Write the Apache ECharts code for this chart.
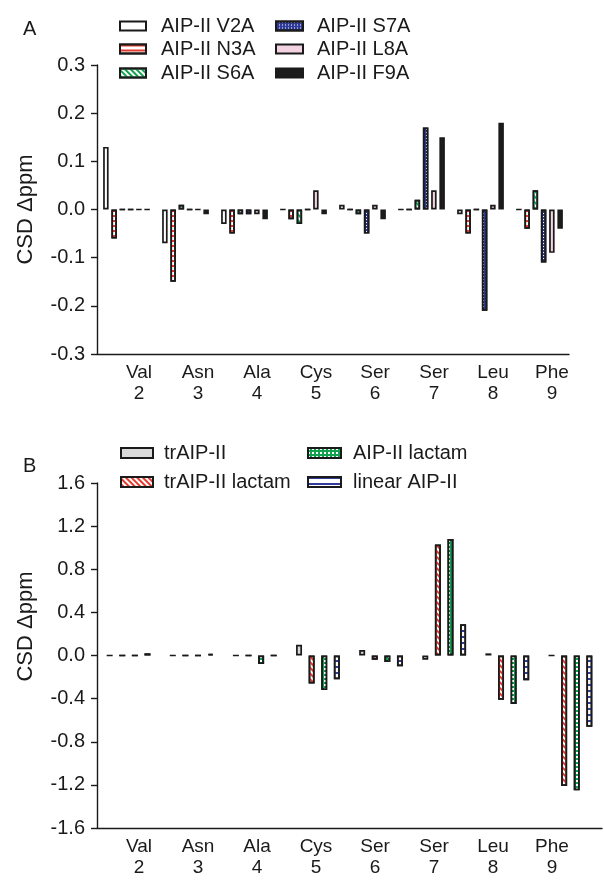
<!DOCTYPE html>
<html>
<head>
<meta charset="utf-8">
<script src="https://cdn.jsdelivr.net/npm/echarts@6/dist/echarts.min.js"></script>
<style>
html,body{margin:0;padding:0;background:#fff;}
#c{width:604px;height:884px;}
</style>
</head>
<body>
<div id="c"></div>
<script>
// ---- data ----
const residues = ['Val','Asn','Ala','Cys','Ser','Ser','Leu','Phe'];
const positions = ['2','3','4','5','6','7','8','9'];

// Panel A (CSD Δppm)
const seriesNamesA = ['AIP-II V2A','AIP-II N3A','AIP-II S6A','AIP-II S7A','AIP-II L8A','AIP-II F9A'];
const v2a = [0.13, -0.07, -0.03, 0, 0.01, 0, -0.01, 0];
const n3a = [-0.06, -0.15, -0.05, -0.02, 0, 0, -0.05, -0.04];
const s6a = [0, 0.01, -0.01, -0.03, -0.01, 0.02, 0, 0.04];
const s7a = [0, 0, -0.01, 0, -0.05, 0.17, -0.21, -0.11];
const l8a = [0, 0, -0.01, 0.04, 0.01, 0.04, 0.01, -0.09];
const f9a = [0, -0.01, -0.02, -0.01, -0.02, 0.15, 0.18, -0.04];

// Panel B (CSD Δppm)
const seriesNamesB = ['trAIP-II','trAIP-II lactam','AIP-II lactam','linear AIP-II'];
const trAip = [0, 0, 0, 0.10, 0.05, -0.04, 0.02, 0];
const trAipLactam = [0, 0, 0, -0.26, -0.04, 1.03, -0.41, -1.21];
const aipLactam = [0, 0, -0.08, -0.32, -0.06, 1.08, -0.45, -1.25];
const linearAip = [0.02, 0.015, 0, -0.22, -0.10, 0.29, -0.23, -0.66];

const yTicksA = {min: -0.3, max: 0.3, interval: 0.1};
const yTicksB = {min: -1.6, max: 1.6, interval: 0.4};

// ---- styles ----
const RED = '#e63a2e', GREEN = '#12a24f', BLUE = '#2f3b97', PINK = '#f3d2e2', GRAY = '#d9d9d9', BLACK = '#1c1c1c';
const INK = '#1a1a1a';
const FONT = 'Liberation Sans, Arial, sans-serif';
const cats = residues.map((r, i) => r + '\n' + positions[i]);

const border = {borderColor: INK, borderWidth: 1.7};
const stylesA = [
  Object.assign({color: '#ffffff'}, border),
  Object.assign({color: '#ffffff', decal: {symbol: 'rect', symbolSize: 1, color: RED, dashArrayX: [1, 0], dashArrayY: [2, 2.3], rotation: 0}}, border),
  Object.assign({color: '#ffffff', decal: {symbol: 'rect', symbolSize: 1, color: GREEN, dashArrayX: [1, 0], dashArrayY: [1.8, 1.6], rotation: Math.PI / 4}}, border),
  Object.assign({color: BLUE, decal: {symbol: 'rect', symbolSize: 1, color: '#ffffff', dashArrayX: [1, 2], dashArrayY: [1, 2], rotation: 0}}, border),
  Object.assign({color: PINK}, border),
  Object.assign({color: BLACK}, border)
];
const stylesB = [
  Object.assign({color: GRAY}, border),
  Object.assign({color: '#ffffff', decal: {symbol: 'rect', symbolSize: 1, color: RED, dashArrayX: [1, 0], dashArrayY: [2, 2], rotation: Math.PI / 4}}, border),
  Object.assign({color: GREEN, decal: {symbol: 'rect', symbolSize: 1, color: '#ffffff', dashArrayX: [1.2, 2], dashArrayY: [1.2, 2], rotation: 0}}, border),
  Object.assign({color: '#ffffff', decal: {symbol: 'rect', symbolSize: 1, color: BLUE, dashArrayX: [1, 0], dashArrayY: [1.4, 4], rotation: 0}}, border)
];
const dataA = [v2a, n3a, s6a, s7a, l8a, f9a];
const dataB = [trAip, trAipLactam, aipLactam, linearAip];

const series = [];
seriesNamesA.forEach((n, i) => series.push({
  name: n, type: 'bar', xAxisIndex: 0, yAxisIndex: 0, data: dataA[i],
  barWidth: 5.5, barGap: '50%', itemStyle: stylesA[i]
}));
seriesNamesB.forEach((n, i) => series.push({
  name: n, type: 'bar', xAxisIndex: 1, yAxisIndex: 1, data: dataB[i],
  barWidth: 6, barGap: '110%', itemStyle: stylesB[i]
}));

function legendItem(name, left, cy, w, h, gap) {
  return {
    data: [{name: name, icon: 'rect'}], left: left, top: cy - 11, padding: 0,
    itemWidth: w, itemHeight: h, selectedMode: false, icon: 'rect',
    textStyle: {fontFamily: FONT, fontSize: 20, color: INK, lineHeight: 22, padding: [0, 0, 0, gap]}
  };
}

const axisLineStyle = {color: INK, width: 1.4};
function yAxis(grid, ticks, decimals, namePad) {
  return {
    type: 'value', gridIndex: grid, min: ticks.min, max: ticks.max, interval: ticks.interval,
    axisLine: {show: true, lineStyle: axisLineStyle},
    axisTick: {show: true, inside: false, length: 6, lineStyle: axisLineStyle},
    splitLine: {show: false},
    axisLabel: {fontFamily: FONT, fontSize: 20, color: INK, margin: 12, formatter: v => v.toFixed(decimals)},
    name: 'CSD Δppm', nameLocation: 'middle', nameRotate: 90, nameGap: 60,
    nameTextStyle: {fontFamily: FONT, fontSize: 22, color: INK, padding: [0, 0, 0, namePad]}
  };
}
function mainX(grid) {
  return {
    type: 'category', gridIndex: grid, data: cats,
    axisLine: {show: true, onZero: false, lineStyle: axisLineStyle},
    axisTick: {show: false}, axisLabel: {show: false}, splitLine: {show: false}
  };
}
function labelX(grid) {
  return {
    type: 'category', gridIndex: grid, data: cats,
    axisLine: {show: false}, axisTick: {show: false}, splitLine: {show: false},
    axisLabel: {fontFamily: FONT, fontSize: 19, color: INK, lineHeight: 21, margin: 8, interval: 0}
  };
}

const option = {
  animation: false,
  backgroundColor: '#ffffff',
  title: [
    {text: 'A', left: 18, top: 14, textStyle: {fontFamily: FONT, fontSize: 20, fontWeight: 'normal', color: INK}},
    {text: 'B', left: 18, top: 451, textStyle: {fontFamily: FONT, fontSize: 20, fontWeight: 'normal', color: INK}}
  ],
  legend: [
    legendItem('AIP-II V2A', 119, 26, 26, 9, 10),
    legendItem('AIP-II N3A', 119, 49, 26, 9, 10),
    legendItem('AIP-II S6A', 119, 73, 26, 9, 10),
    legendItem('AIP-II S7A', 275, 26, 27, 9, 9),
    legendItem('AIP-II L8A', 275, 49, 27, 9, 9),
    legendItem('AIP-II F9A', 275, 73, 27, 9, 9),
    legendItem('trAIP-II', 120, 453, 32, 10, 6),
    legendItem('trAIP-II lactam', 120, 482, 32, 10, 6),
    legendItem('AIP-II lactam', 307, 453, 33, 10, 7),
    legendItem('linear AIP-II', 307, 482, 33, 10, 7)
  ],
  grid: [
    {left: 97, top: 65, width: 472, height: 289},
    {left: 97, top: 483, width: 505, height: 345},
    {left: 109.5, top: 300, width: 472, height: 54},
    {left: 109.5, top: 774, width: 472, height: 54}
  ],
  xAxis: [mainX(0), mainX(1), labelX(2), labelX(3)],
  yAxis: [
    yAxis(0, yTicksA, 1, 0),
    yAxis(1, yTicksB, 1, 58),
    {type: 'value', gridIndex: 2, show: false},
    {type: 'value', gridIndex: 3, show: false}
  ],
  series: series
};

const chart = echarts.init(document.getElementById('c'), null, {renderer: 'canvas'});
chart.setOption(option);
</script>
</body>
</html>
